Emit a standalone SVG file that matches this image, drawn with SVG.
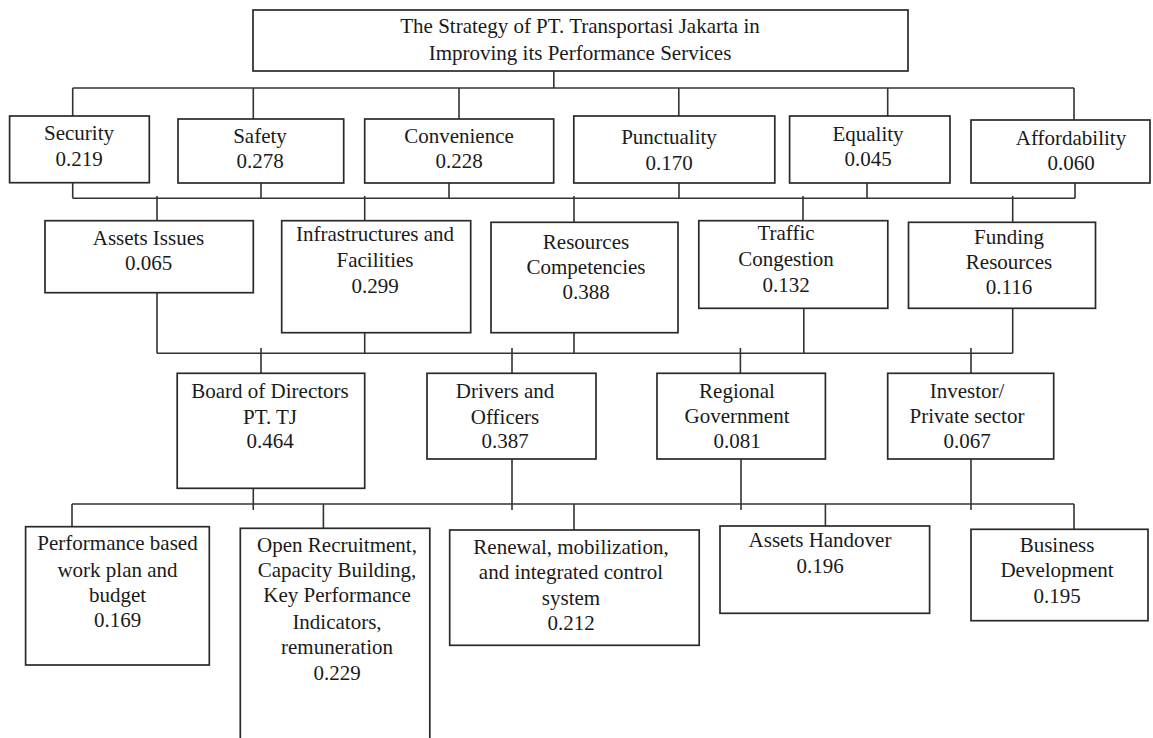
<svg xmlns="http://www.w3.org/2000/svg" width="1153" height="738" viewBox="0 0 1153 738">
<style>
.box{fill:#fff;stroke:#2a2a2a;stroke-width:1.7}
.lbl{font-family:"Liberation Serif","Times New Roman",serif;font-size:21px;fill:#1a1a1a;text-anchor:middle}
.con{fill:none;stroke:#333;stroke-width:1.6}
</style>
<rect width="1153" height="738" fill="#fff"/>
<g id="connectors" class="con">
<path d="M553.8,71V88M72.7,88H1074M72.7,88V116M253.3,88V119M459,88V119M678.8,88V116M887.7,88V116M1074,88V120"/>
<path d="M72.7,183V198.3M261,183V198.3M449,183V198.3M679,183V198.3M867,183V198.3M1075,183V198.3M72.7,198.3H1075M157,196V220.7M364.7,196V220.7M574,196V222.3M803,196V220.7M1012.7,196V222.3"/>
<path d="M157,284V353.3M364.7,328V353.3M574,328V353.3M803.8,308.3V353.3M1012.7,308.3V353.3M157,353.3H1012.7M261,348V373.3M512,348V373.3M740.4,348V373.3M971,348V373.3"/>
<path d="M253.3,488.3V510M512,459V510M741,459V510M971,459V510M72,504H1074M72,504V526.7M323.4,504V528.3M574,504V530M825.4,504V526M1074,504V529.3"/>
</g>
<g id="goal"><rect class="box" x="253" y="10" width="655" height="61"/>
<text class="lbl" x="580" y="33">The Strategy of PT. Transportasi Jakarta in</text>
<text class="lbl" x="580" y="59.5">Improving its Performance Services</text></g>
<g id="security"><rect class="box" x="9.6" y="116" width="139.7" height="66.7"/>
<text class="lbl" x="79" y="140">Security</text><text class="lbl" x="79" y="166">0.219</text></g>
<g id="safety"><rect class="box" x="178" y="119" width="165.7" height="64"/>
<text class="lbl" x="260" y="143">Safety</text><text class="lbl" x="260" y="168">0.278</text></g>
<g id="convenience"><rect class="box" x="364.7" y="119" width="189" height="64"/>
<text class="lbl" x="459" y="143">Convenience</text><text class="lbl" x="459" y="168">0.228</text></g>
<g id="punctuality"><rect class="box" x="573.8" y="116" width="201" height="67"/>
<text class="lbl" x="669" y="144">Punctuality</text><text class="lbl" x="669" y="170">0.170</text></g>
<g id="equality"><rect class="box" x="789.6" y="116" width="160.4" height="67"/>
<text class="lbl" x="868" y="141">Equality</text><text class="lbl" x="868" y="166">0.045</text></g>
<g id="affordability"><rect class="box" x="971" y="120" width="179" height="63"/>
<text class="lbl" x="1071" y="145">Affordability</text><text class="lbl" x="1071" y="170">0.060</text></g>
<g id="assets-issues"><rect class="box" x="45" y="220.7" width="208.3" height="72"/>
<text class="lbl" x="148.5" y="245">Assets Issues</text><text class="lbl" x="148.5" y="270">0.065</text></g>
<g id="infrastructures"><rect class="box" x="281.7" y="220.7" width="189" height="112"/>
<text class="lbl" x="375" y="241">Infrastructures and</text><text class="lbl" x="375" y="267">Facilities</text><text class="lbl" x="375" y="293">0.299</text></g>
<g id="resources"><rect class="box" x="491" y="222.3" width="187" height="110.4"/>
<text class="lbl" x="586" y="248.7">Resources</text><text class="lbl" x="586" y="274">Competencies</text><text class="lbl" x="586" y="298.7">0.388</text></g>
<g id="traffic"><rect class="box" x="698.8" y="220.7" width="189" height="87.6"/>
<text class="lbl" x="786" y="240">Traffic</text><text class="lbl" x="786" y="266">Congestion</text><text class="lbl" x="786" y="292">0.132</text></g>
<g id="funding"><rect class="box" x="908.5" y="222.3" width="187" height="86"/>
<text class="lbl" x="1009" y="243.7">Funding</text><text class="lbl" x="1009" y="268.7">Resources</text><text class="lbl" x="1009" y="294.3">0.116</text></g>
<g id="board"><rect class="box" x="177.2" y="373.3" width="187.5" height="115"/>
<text class="lbl" x="270" y="398">Board of Directors</text><text class="lbl" x="270" y="423.7">PT. TJ</text><text class="lbl" x="270" y="448">0.464</text></g>
<g id="drivers"><rect class="box" x="427" y="373.3" width="169" height="85.7"/>
<text class="lbl" x="505" y="398">Drivers and</text><text class="lbl" x="505" y="423.7">Officers</text><text class="lbl" x="505" y="448">0.387</text></g>
<g id="regional"><rect class="box" x="657" y="373.3" width="168.4" height="85.7"/>
<text class="lbl" x="737" y="397.7">Regional</text><text class="lbl" x="737" y="423">Government</text><text class="lbl" x="737" y="448">0.081</text></g>
<g id="investor"><rect class="box" x="887.7" y="373.3" width="166" height="85.7"/>
<text class="lbl" x="967" y="397.7">Investor/</text><text class="lbl" x="967" y="423">Private sector</text><text class="lbl" x="967" y="448">0.067</text></g>
<g id="performance"><rect class="box" x="25.6" y="526.7" width="183.7" height="138.3"/>
<text class="lbl" x="117.5" y="549.7">Performance based</text><text class="lbl" x="117.5" y="577">work plan and</text><text class="lbl" x="117.5" y="602">budget</text><text class="lbl" x="117.5" y="627">0.169</text></g>
<g id="recruitment"><rect class="box" x="240.3" y="528.3" width="189.5" height="220"/>
<text class="lbl" x="337" y="552">Open Recruitment,</text><text class="lbl" x="337" y="577">Capacity Building,</text><text class="lbl" x="337" y="602">Key Performance</text><text class="lbl" x="337" y="628.7">Indicators,</text><text class="lbl" x="337" y="654.3">remuneration</text><text class="lbl" x="337" y="680.3">0.229</text></g>
<g id="renewal"><rect class="box" x="449.7" y="530" width="249.5" height="115.3"/>
<text class="lbl" x="571" y="554">Renewal, mobilization,</text><text class="lbl" x="571" y="579">and integrated control</text><text class="lbl" x="571" y="604.5">system</text><text class="lbl" x="571" y="630">0.212</text></g>
<g id="handover"><rect class="box" x="720" y="526" width="209.6" height="87.3"/>
<text class="lbl" x="820" y="547">Assets Handover</text><text class="lbl" x="820" y="573">0.196</text></g>
<g id="business"><rect class="box" x="971" y="529.3" width="177" height="91.4"/>
<text class="lbl" x="1057" y="552">Business</text><text class="lbl" x="1057" y="577">Development</text><text class="lbl" x="1057" y="603">0.195</text></g>
</svg>
